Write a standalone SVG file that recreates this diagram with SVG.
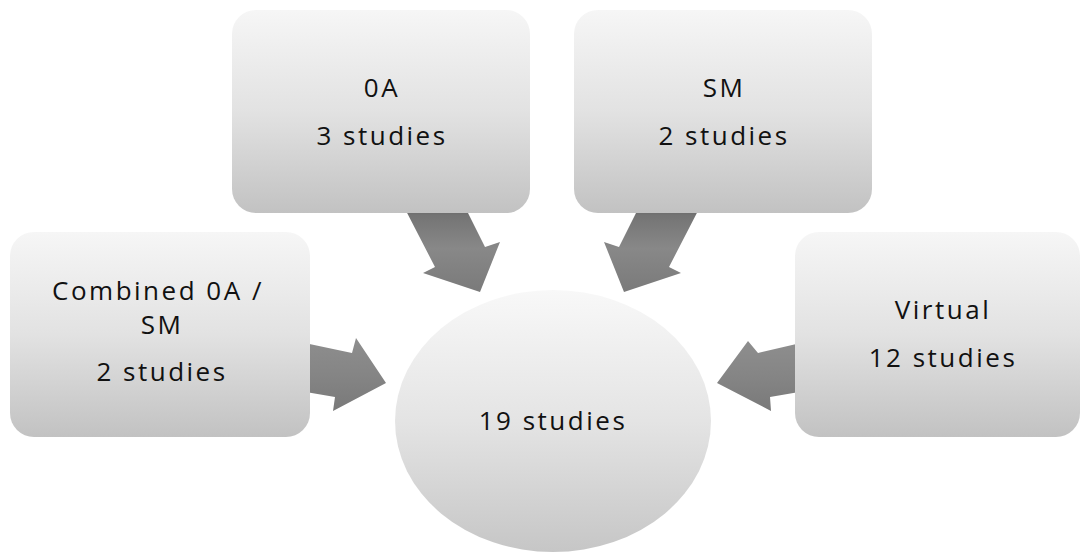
<svg xmlns="http://www.w3.org/2000/svg" width="1081" height="553" viewBox="0 0 1081 553">
  <defs>
    <linearGradient id="boxFill" x1="0" y1="0" x2="0" y2="1">
      <stop offset="0" stop-color="#f6f6f6"/>
      <stop offset="0.5" stop-color="#e2e2e2"/>
      <stop offset="1" stop-color="#c2c2c2"/>
    </linearGradient>
    <linearGradient id="hubFill" x1="0" y1="0" x2="0" y2="1">
      <stop offset="0" stop-color="#f8f8f8"/>
      <stop offset="0.5" stop-color="#e4e4e4"/>
      <stop offset="1" stop-color="#c6c6c6"/>
    </linearGradient>
    <linearGradient id="arrowDown" x1="0" y1="0" x2="0" y2="1">
      <stop offset="0" stop-color="#5e5e5e"/>
      <stop offset="0.12" stop-color="#747474"/>
      <stop offset="0.5" stop-color="#888888"/>
      <stop offset="1" stop-color="#7a7a7a"/>
    </linearGradient>
    <linearGradient id="arrowSide" x1="0" y1="0" x2="0" y2="1">
      <stop offset="0" stop-color="#8e8e8e"/>
      <stop offset="0.5" stop-color="#858585"/>
      <stop offset="1" stop-color="#797979"/>
    </linearGradient>
  </defs>
  <style>
    .box { fill: url(#boxFill); }
    .hub { fill: url(#hubFill); }
    .down { fill: url(#arrowDown); }
    .side { fill: url(#arrowSide); }
    text { font-family: "Open Sans", "Noto Sans", "Liberation Sans", sans-serif; font-size: 26px; fill: #111111; text-anchor: middle; letter-spacing: 2.5px; }
  </style>
  <rect width="1081" height="553" fill="#ffffff"/>

  <!-- block arrows pointing into the central circle -->
  <g id="connectors">
    <polygon class="down" points="403,205 464,205 485,247 500,242 480,292 423,273 435,267"/>
    <polygon class="down" points="701,205 640,205 619,247 604,242 624,292 681,273 669,267"/>
    <polygon class="side" points="300,342 352,353 356,338 386,383 333,411 335,397 300,391"/>
    <polygon class="side" points="805,342 758,353 748,341 717,383 771,411 770,397 805,391"/>
  </g>

  <g id="node-oa">
    <rect class="box" x="232" y="10" width="298" height="203" rx="24" ry="24"/>
    <text x="382" y="97">0A</text>
    <text x="382" y="145">3 studies</text>
  </g>

  <g id="node-sm">
    <rect class="box" x="574" y="10" width="298" height="203" rx="24" ry="24"/>
    <text x="724" y="97">SM</text>
    <text x="724" y="145">2 studies</text>
  </g>

  <g id="node-combined">
    <rect class="box" x="10" y="232" width="300" height="205" rx="24" ry="24"/>
    <text x="158" y="300">Combined 0A /</text>
    <text x="162" y="334">SM</text>
    <text x="162" y="381">2 studies</text>
  </g>

  <g id="node-virtual">
    <rect class="box" x="795" y="232" width="285" height="205" rx="24" ry="24"/>
    <text x="943" y="319">Virtual</text>
    <text x="943" y="367">12 studies</text>
  </g>

  <g id="node-total">
    <ellipse class="hub" cx="553" cy="421" rx="158" ry="131"/>
    <text x="553" y="430">19 studies</text>
  </g>
</svg>
